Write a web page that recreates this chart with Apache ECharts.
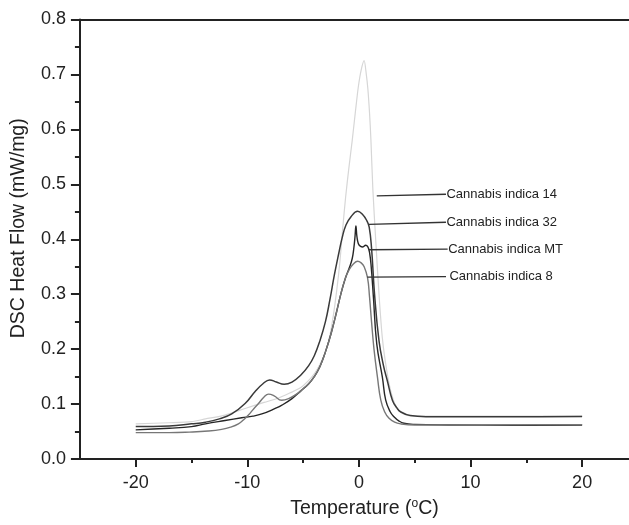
<!DOCTYPE html>
<html>
<head>
<meta charset="utf-8">
<script src="https://cdn.jsdelivr.net/npm/echarts@6/dist/echarts.min.js"></script>
<style>
html,body{margin:0;padding:0;background:#fff;}
#chart{width:629px;height:525px;}
</style>
</head>
<body>
<div id="chart"></div>
<script>
// ---- Data ----
var seriesNames = ['Cannabis indica 14', 'Cannabis indica 32', 'Cannabis indica MT', 'Cannabis indica 8'];

var ci14 = [[-20,0.064],[-17,0.066],[-15,0.068],[-13.75,0.073],[-12,0.08],[-10.2,0.092],[-8.5,0.103],[-7.2,0.111],[-6.2,0.12],[-5.2,0.13],[-4.5,0.143],[-4,0.155],[-3.5,0.172],[-3,0.195],[-2.6,0.225],[-2.3,0.26],[-2,0.305],[-1.7,0.36],[-1.45,0.42],[-1.2,0.475],[-0.9,0.53],[-0.6,0.58],[-0.3,0.635],[-0.05,0.678],[0.2,0.708],[0.47,0.725],[0.65,0.702],[0.8,0.674],[0.95,0.63],[1.07,0.583],[1.25,0.49],[1.5,0.40],[1.8,0.3],[2.1,0.22],[2.5,0.16],[2.9,0.12],[3.4,0.093],[4,0.082],[5,0.078],[10,0.078],[20,0.078]];

var ci32 = [[-20,0.059],[-17,0.06],[-15,0.064],[-13.75,0.067],[-12.5,0.073],[-11.4,0.082],[-10.2,0.101],[-9.3,0.123],[-8.6,0.137],[-8,0.144],[-7.4,0.14],[-6.7,0.136],[-6,0.14],[-5.2,0.153],[-4.5,0.17],[-4,0.188],[-3.5,0.215],[-3,0.25],[-2.6,0.29],[-2.2,0.335],[-1.8,0.375],[-1.5,0.403],[-1.16,0.426],[-0.71,0.441],[-0.12,0.451],[0.33,0.445],[0.7,0.434],[0.92,0.422],[1.13,0.384],[1.4,0.3],[1.8,0.215],[2.2,0.17],[2.55,0.142],[3.0,0.107],[3.4,0.093],[3.73,0.086],[4.6,0.079],[6,0.077],[10,0.077],[15,0.077],[20,0.0775]];

var ciMT = [[-20,0.053],[-17,0.056],[-15,0.059],[-13.75,0.064],[-12,0.07],[-10.5,0.075],[-9.5,0.078],[-8.7,0.082],[-7.5,0.092],[-6.9,0.098],[-6,0.11],[-5.2,0.124],[-4.5,0.137],[-4,0.15],[-3.5,0.168],[-3,0.195],[-2.5,0.228],[-2,0.268],[-1.6,0.302],[-1.2,0.33],[-0.86,0.348],[-0.6,0.365],[-0.45,0.385],[-0.35,0.405],[-0.27,0.424],[-0.18,0.405],[-0.05,0.392],[0.15,0.387],[0.35,0.386],[0.6,0.389],[0.8,0.386],[0.95,0.376],[1.1,0.35],[1.3,0.294],[1.6,0.209],[2.1,0.149],[2.4,0.107],[2.8,0.086],[3.14,0.077],[3.6,0.069],[4.03,0.065],[5,0.063],[8,0.062],[14,0.0615],[20,0.062]];

var ci8 = [[-20,0.048],[-17,0.048],[-15.2,0.049],[-13.5,0.051],[-12.3,0.054],[-11.5,0.058],[-10.8,0.064],[-10.3,0.072],[-9.9,0.08],[-9.4,0.092],[-9,0.101],[-8.5,0.113],[-8.1,0.118],[-7.6,0.115],[-6.93,0.107],[-6.3,0.11],[-5.6,0.118],[-5.0,0.128],[-4.5,0.137],[-4,0.15],[-3.5,0.168],[-3,0.195],[-2.5,0.228],[-2,0.268],[-1.6,0.302],[-1.2,0.33],[-0.86,0.345],[-0.5,0.355],[-0.12,0.36],[0.2,0.357],[0.47,0.35],[0.77,0.33],[0.95,0.295],[1.13,0.25],[1.35,0.2],[1.66,0.149],[1.96,0.107],[2.3,0.086],[2.7,0.074],[3.2,0.067],[3.73,0.064],[5,0.062],[10,0.062],[20,0.0625]];

// Annotation pointer lines: start (near curve) and end (at label)
var pointerStart = [[1.6,0.479],[0.9,0.427],[0.9,0.381],[0.75,0.331]];
var pointerEnd   = [[7.8,0.482],[7.8,0.431],[7.95,0.382],[7.8,0.332]];

var xTickLabels = [-20,-10,0,10,20];
var xMinorTicks = [-15,-5,5,15];

// ---- Chart ----
var chart = echarts.init(document.getElementById('chart'), null, {renderer:'canvas'});
var FONT = 'Liberation Sans, Arial, sans-serif';
var AX = '#222';

var curveData = [ci14, ci32, ciMT, ci8];
var curveColors = ['#d6d6d6', '#3a3a3a', '#262626', '#777777'];
var curveWidths = [1.2, 1.5, 1.4, 1.4];
var curveSmooth = [0.25, 0.45, 0.45, 0.45];

var series = [];
curveData.forEach(function(d, i){
  series.push({
    name: seriesNames[i], type:'line', data:d, xAxisIndex:0, yAxisIndex:0,
    showSymbol:false, symbol:'none', smooth:curveSmooth[i],
    lineStyle:{color:curveColors[i], width:curveWidths[i]}, silent:true, z: i===0?2:3
  });
});
seriesNames.forEach(function(n, i){
  series.push({
    name: n + ' label', type:'line', xAxisIndex:0, yAxisIndex:0,
    data:[
      {value:pointerStart[i]},
      {value:pointerEnd[i], label:{show:true, formatter:n, position:'right', distance:i===3?3:0,
        color:'#222', fontFamily:FONT, fontSize:13}}
    ],
    showSymbol:true, showAllSymbol:true, symbol:'circle', symbolSize:1,
    itemStyle:{color:'rgba(0,0,0,0)', borderWidth:0},
    smooth:false,
    lineStyle:{color:'#333', width:1.4}, silent:true, z:4
  });
});

var option = {
  backgroundColor:'#fff',
  animation:false,
  grid:{left:77, top:19.5, right:0, bottom:62.5, containLabel:false},
  xAxis:[{
    type:'value', min:-25, max:24.2, interval:5, position:'bottom',
    axisLine:{show:true, onZero:false, lineStyle:{color:AX, width:2}},
    axisTick:{show:true, customValues:xTickLabels, length:8, lineStyle:{color:AX, width:2}},
    axisLabel:{show:true, customValues:xTickLabels, margin:15, color:AX, fontFamily:FONT, fontSize:18},
    splitLine:{show:false},
    name:'Temperature ({sup|o}C)', nameLocation:'middle', nameGap:39,
    nameTextStyle:{color:AX, fontFamily:FONT, fontSize:19.5, lineHeight:22, padding:[0,0,0,20],
      rich:{sup:{fontSize:12, lineHeight:22, verticalAlign:'top', color:AX, fontFamily:FONT, padding:[0,0,8,0]}}}
  },{
    type:'value', min:-25, max:24.2, interval:5, position:'bottom',
    axisLine:{show:false},
    axisTick:{show:true, customValues:xMinorTicks, length:4, lineStyle:{color:AX, width:2}},
    axisLabel:{show:false}, splitLine:{show:false}
  },{
    type:'value', min:-25, max:24.2, interval:5, position:'top',
    axisLine:{show:true, onZero:false, lineStyle:{color:AX, width:2}},
    axisTick:{show:false}, axisLabel:{show:false}, splitLine:{show:false}
  }],
  yAxis:[{
    type:'value', min:0, max:0.8, interval:0.1, position:'left',
    axisLine:{show:true, onZero:false, lineStyle:{color:AX, width:2}},
    axisTick:{show:true, length:9, lineStyle:{color:AX, width:2}},
    minorTick:{show:true, splitNumber:2, length:5, lineStyle:{color:AX, width:2}},
    axisLabel:{margin:14, color:AX, fontFamily:FONT, fontSize:18, formatter:function(v){return v.toFixed(1);}},
    splitLine:{show:false}, minorSplitLine:{show:false},
    name:'DSC Heat Flow (mW/mg)', nameLocation:'middle', nameGap:46, nameRotate:90,
    nameTextStyle:{color:AX, fontFamily:FONT, fontSize:19.5, lineHeight:22, padding:[0,0,0,22]}
  }],
  series:series
};
chart.setOption(option);
</script>
</body>
</html>
